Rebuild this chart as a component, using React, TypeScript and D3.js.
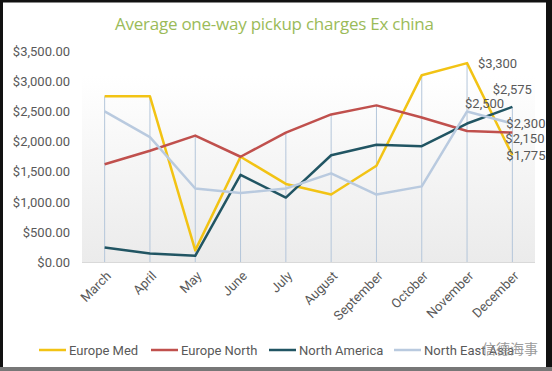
import * as d3 from "d3";

const months = [
  "March", "April", "May", "June", "July",
  "August", "September", "October", "November", "December",
];
const europeMed = [2750, 2750, 200, 1750, 1300, 1125, 1600, 3100, 3300, 1775];
const europeNorth = [1625, 1850, 2100, 1750, 2150, 2450, 2600, 2400, 2175, 2150];
const northAmerica = [250, 150, 110, 1450, 1075, 1775, 1950, 1925, 2300, 2575];
const northEastAsia = [2500, 2075, 1225, 1150, 1225, 1475, 1125, 1260, 2500, 2300];
const yTicks = [0, 500, 1000, 1500, 2000, 2500, 3000, 3500];

const series = [
  { name: "Europe Med", values: europeMed, color: "#F2C314" },
  { name: "Europe North", values: europeNorth, color: "#C0504D" },
  { name: "North America", values: northAmerica, color: "#215563" },
  { name: "North East Asia", values: northEastAsia, color: "#B9CADF" },
];

// hand placed data labels: [series index, month index, dx, dy, anchor]
const dataLabels: [number, number, number, number, string][] = [
  [0, 8, 11, 0, "start"],
  [3, 8, -2, -8, "start"],
  [2, 9, 0, -17, "middle"],
  [3, 9, -6, 0, "start"],
  [1, 9, -7, 6, "start"],
  [0, 9, -6, 0, "start"],
];

const legendX = [39, 151, 269, 394];

export default function App() {
  const width = 552;
  const height = 371;
  const plot = { left: 82, right: 535, top: 51, bottom: 262.5 };
  const font = "Roboto, sans-serif";
  const grey = "#595959";

  const x = d3.scaleBand().domain(months).range([plot.left, plot.right]);
  const cx = (m: string) => (x(m) ?? 0) + x.bandwidth() / 2;
  const y = d3.scaleLinear().domain([0, 3500]).range([plot.bottom, plot.top]);
  const line = d3
    .line<number>()
    .x((_, i) => cx(months[i]))
    .y((v) => y(v));
  const fmtAxis = (v: number) => "$" + d3.format(",.2f")(v);
  const fmtLabel = (v: number) => "$" + d3.format(",")(v);

  return (
    <svg
      width={width}
      height={height}
      style={{ position: "absolute", left: 0, top: 0, background: "#fff" }}
    >
      <defs>
        <linearGradient id="plotBg" x1="0" y1="0" x2="0" y2="1">
          <stop offset="0" stopColor="#ffffff" />
          <stop offset="1" stopColor="#ebebeb" />
        </linearGradient>
      </defs>
      <rect
        x={plot.left}
        y={plot.top + 25}
        width={plot.right - plot.left}
        height={plot.bottom - plot.top - 25}
        fill="url(#plotBg)"
      />

      <text
        x={115}
        y={30}
        textLength={319}
        lengthAdjust="spacing"
        fontFamily="'Open Sans', sans-serif"
        fontSize={17}
        fill="#9BBB59"
      >
        Average one-way pickup charges Ex china
      </text>

      {yTicks.map((t) => (
        <text
          key={t}
          x={70}
          y={y(t)}
          dy="0.35em"
          textAnchor="end"
          fontFamily={font}
          fontSize={13}
          fill={grey}
        >
          {fmtAxis(t)}
        </text>
      ))}

      {months.map((m, i) => (
        <line
          key={m}
          x1={cx(m)}
          x2={cx(m)}
          y1={y(d3.max(series, (s) => s.values[i]) ?? 0)}
          y2={plot.bottom}
          stroke="#B4C6DA"
          strokeWidth={1}
        />
      ))}
      <line
        x1={plot.left}
        x2={plot.right}
        y1={plot.bottom}
        y2={plot.bottom}
        stroke="#D9D9D9"
        strokeWidth={1}
      />

      {months.map((m) => (
        <text
          key={m}
          transform={`translate(${cx(m) + 4}, ${plot.bottom + 11}) rotate(-45)`}
          textAnchor="end"
          dy="0.35em"
          fontFamily={font}
          fontSize={13}
          fill={grey}
        >
          {m}
        </text>
      ))}

      {series.map((s) => (
        <path
          key={s.name}
          d={line(s.values) ?? ""}
          fill="none"
          stroke={s.color}
          strokeWidth={2.5}
          strokeLinejoin="round"
        />
      ))}

      {dataLabels.map(([si, mi, dx, dy, anchor]) => {
        const v = series[si].values[mi];
        return (
          <text
            key={`${si}-${mi}`}
            x={cx(months[mi]) + dx}
            y={y(v) + dy}
            dy="0.35em"
            textAnchor={anchor}
            fontFamily={font}
            fontSize={13}
            fill={grey}
          >
            {fmtLabel(v)}
          </text>
        );
      })}

      {series.map((s, i) => (
        <g key={s.name} transform={`translate(${legendX[i]}, 350)`}>
          <line x1={0} x2={27} y1={0} y2={0} stroke={s.color} strokeWidth={2.5} />
          <text x={30} y={0} dy="0.35em" fontFamily={font} fontSize={13} fill={grey}>
            {s.name}
          </text>
        </g>
      ))}

      <text
        x={482}
        y={349}
        dy="0.35em"
        fontFamily="'Noto Sans CJK SC', sans-serif"
        fontSize={14}
        fill="#8a8a8a"
        opacity={0.85}
      >
        信德海事
      </text>

      <rect x={1.5} y={1} width={546} height={368} fill="none" stroke="#111" strokeWidth={3} />
      <rect x={547} y={0} width={5} height={371} fill="#111" />
      <rect x={0} y={367} width={552} height={4} fill="#777" />
    </svg>
  );
}
